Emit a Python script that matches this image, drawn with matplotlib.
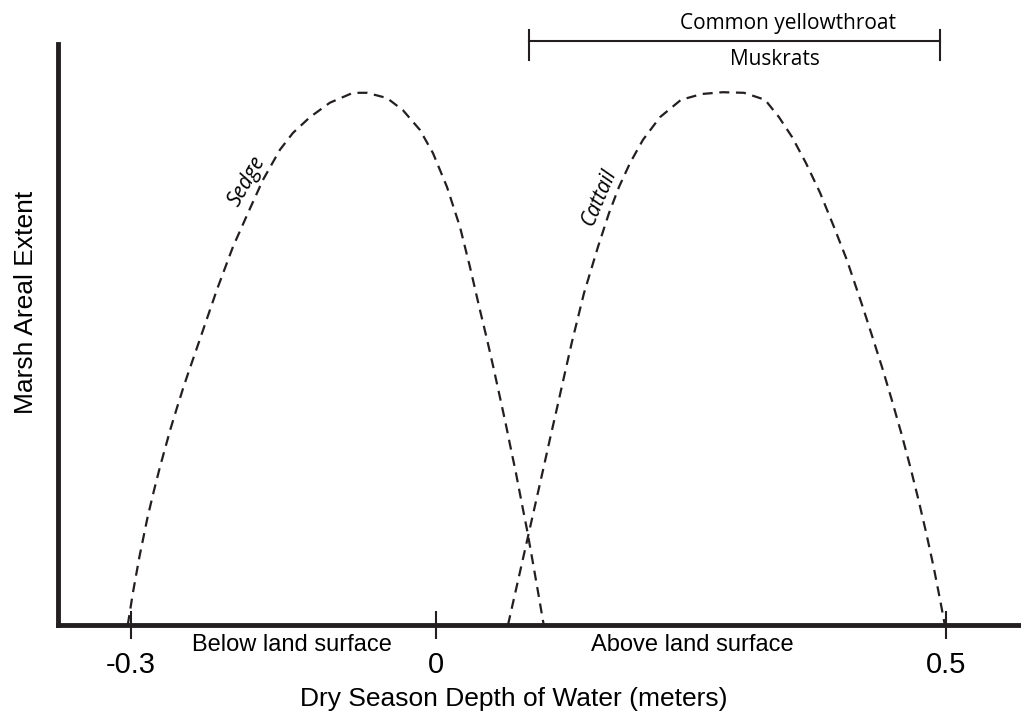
import matplotlib
matplotlib.use("Agg")
import matplotlib.pyplot as plt

# Sedge curve (depth in m, relative areal extent)
sedge_x = [-0.303, -0.298, -0.2916, -0.2835, -0.2772, -0.2714, -0.2613, -0.2545,
           -0.2482, -0.2426, -0.2341, -0.2155, -0.1997, -0.1850, -0.1703, -0.1536,
           -0.1408, -0.1242, -0.1045, -0.0819, -0.0682, -0.0485, -0.0328, -0.0161,
           -0.0033, 0.0104, 0.0232, 0.0330, 0.0428, 0.0498, 0.0559, 0.0609, 0.0679,
           0.0734, 0.0781, 0.0838, 0.0890, 0.0938, 0.1000, 0.1054]
sedge_y = [0.000, 0.055, 0.117, 0.186, 0.232, 0.272, 0.336, 0.375,
           0.410, 0.439, 0.482, 0.577, 0.651, 0.709, 0.766, 0.818,
           0.847, 0.874, 0.899, 0.916, 0.916, 0.907, 0.886, 0.852,
           0.812, 0.754, 0.685, 0.616, 0.542, 0.491, 0.444, 0.404, 0.348,
           0.301, 0.262, 0.210, 0.164, 0.117, 0.055, 0.000]

# Cattail curve
cattail_x = [0.0703, 0.0774, 0.0832, 0.0907, 0.0996, 0.1054, 0.1120, 0.1180,
             0.1253, 0.1328, 0.1449, 0.1587, 0.1695, 0.1793, 0.1901, 0.2028,
             0.2195, 0.2402, 0.2608, 0.2810, 0.3020, 0.3227, 0.3364, 0.3492,
             0.3629, 0.3767, 0.3904, 0.4031, 0.4189, 0.4290, 0.4384, 0.4472,
             0.4565, 0.4653, 0.4734, 0.4810, 0.4882, 0.4946, 0.4992]
cattail_y = [0.000, 0.055, 0.100, 0.158, 0.227, 0.272, 0.324, 0.370,
             0.427, 0.485, 0.571, 0.651, 0.709, 0.754, 0.795, 0.835,
             0.874, 0.904, 0.914, 0.917, 0.916, 0.904, 0.874, 0.840,
             0.795, 0.744, 0.685, 0.628, 0.546, 0.491, 0.439, 0.387,
             0.330, 0.272, 0.215, 0.158, 0.100, 0.043, 0.000]

# range of yellowthroat / muskrats
animal_range = [0.091, 0.494]

tick_vals = [-0.3, 0, 0.5]
tick_labels = ["-0.3", "0", "0.5"]

ink = "#231f20"
myriad = ["Open Sans", "DejaVu Sans"]
arial = ["Liberation Sans", "DejaVu Sans"]

fig = plt.figure(figsize=(10.21, 7.19), dpi=100)
ax = fig.add_axes([58 / 1021, 94 / 719, 963 / 1021, 581 / 719])

dash = (0, (4.5, 3))
ax.plot(sedge_x, sedge_y, color=ink, lw=1.6, linestyle=dash, clip_on=False)
ax.plot(cattail_x, cattail_y, color=ink, lw=1.6, linestyle=dash, clip_on=False)

ax.set_xlim(-0.3715, 0.574)
ax.set_ylim(0, 1)

for s in ["top", "right"]:
    ax.spines[s].set_visible(False)
for s in ["left", "bottom"]:
    ax.spines[s].set_linewidth(3.5)
    ax.spines[s].set_color(ink)

ax.set_xticks(tick_vals)
ax.set_xticklabels(tick_labels, family=arial, fontsize=21)
ax.tick_params(axis="x", direction="inout", length=20, width=1.5, color=ink, pad=9)
ax.set_yticks([])

ax.set_xlabel("Dry Season Depth of Water (meters)", family=arial, fontsize=19)
ax.xaxis.set_label_coords(0.4735, -0.107)
ax.set_ylabel("Marsh Areal Extent", family=arial, fontsize=19)
ax.yaxis.set_label_coords(-0.021, 0.556)

ax.text(-0.142, -0.034, "Below land surface", family=arial, fontsize=17,
        ha="center", va="center")
ax.text(0.251, -0.034, "Above land surface", family=arial, fontsize=17,
        ha="center", va="center")

# species labels along curves
ax.text(-0.186, 0.764, "Sedge", family=myriad, style="italic", fontsize=15,
        rotation=60, ha="center", va="center")
ax.text(0.160, 0.737, "Cattail", family=myriad, style="italic", fontsize=15,
        rotation=67, ha="center", va="center")

# range bar above the plot
ax.plot(animal_range, [1.005, 1.005], color=ink, lw=1.5, clip_on=False)
for xe in animal_range:
    ax.plot([xe, xe], [0.972, 1.024], color=ink, lw=1.5, clip_on=False)
ax.text(0.345, 1.036, "Common yellowthroat", family=myriad, fontsize=15,
        ha="center", va="center")
ax.text(0.332, 0.974, "Muskrats", family=myriad, fontsize=15,
        ha="center", va="center")

fig.savefig("out.png", dpi=100)
